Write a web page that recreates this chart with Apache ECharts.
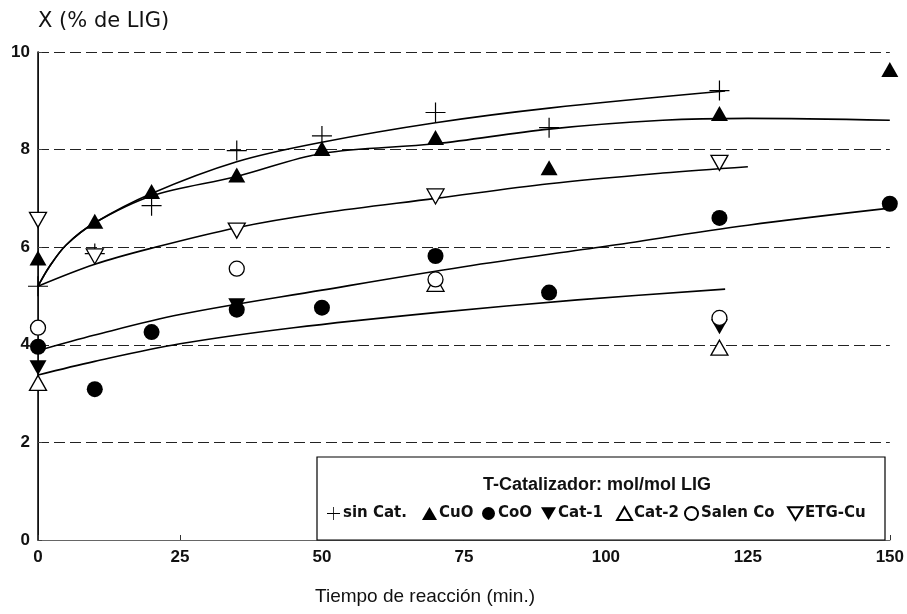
<!DOCTYPE html>
<html><head><meta charset="utf-8">
<script src="https://cdn.jsdelivr.net/npm/echarts@6/dist/echarts.min.js"></script>
<style>html,body{margin:0;padding:0;background:#fff}#c{width:907px;height:614px}</style>
</head><body><div id="c"></div>
<script>
// ---- data ----
const xMin = 0, xMax = 150, xStep = 25;
const yMin = 0, yMax = 10, yStep = 2;
const seriesNames = ['sin Cat.', 'CuO', 'CoO', 'Cat-1', 'Cat-2', 'Salen Co', 'ETG-Cu'];
const sinCat  = [[0,5.2],[10,5.87],[20,6.85],[35,7.98],[50,8.28],[70,8.76],[90,8.45],[120,9.21]];
const cuO     = [[0,5.78],[10,6.53],[20,7.14],[35,7.48],[50,8.02],[70,8.25],[90,7.63],[120,8.74],[150,9.64]];
const coO     = [[0,3.96],[10,3.09],[20,4.26],[35,4.72],[50,4.76],[70,5.82],[90,5.07],[120,6.6],[150,6.89]];
const cat1    = [[0,3.53],[35,4.8],[120,4.37]];
const cat2    = [[0,3.22],[70,5.25],[120,3.94]];
const salenCo = [[0,4.35],[35,5.56],[70,5.34],[120,4.55]];
const etgCu   = [[0,6.56],[10,5.81],[35,6.34],[70,7.04],[120,7.73]];
// fitted curves, points
const fitSinCat = [[0,5.2],[2,5.6],[5,6.05],[10,6.5],[20,7.1],[35,7.75],[50,8.15],[70,8.55],[90,8.85],[121,9.2]];
const fitCuO    = [[0,5.2],[2,5.6],[5,6.05],[10,6.5],[20,7.05],[35,7.45],[50,7.92],[70,8.12],[90,8.42],[110,8.6],[125,8.64],[150,8.6]];
const fitEtgCu  = [[0,5.2],[10,5.65],[20,5.98],[35,6.4],[50,6.7],[70,7.0],[90,7.3],[110,7.52],[125,7.65]];
const fitCoO    = [[0,3.88],[10,4.2],[25,4.62],[50,5.12],[75,5.6],[100,6.02],[125,6.45],[150,6.8]];
const fitLow    = [[0,3.38],[10,3.66],[25,4.02],[45,4.35],[70,4.66],[95,4.92],[121,5.14]];

// ---- layout ----
const legendLeft = [327, 422, 482, 541, 616, 684, 787];
const FONT = '"Liberation Sans", Arial, sans-serif';
const LFONT = '"DejaVu Sans", sans-serif';
const PLUS = 'path://M0,9.4H20V10.6H0Z M9.4,0H10.6V20H9.4Z';
const TRI_DOWN = 'path://M0,0L20,0L10,17Z';
const filled = {color:'#000', opacity:1};
const open = {color:'#fff', borderColor:'#000', borderWidth:1.3, opacity:1};

function sc(name, data, symbol, size, style){
  return {name, type:'scatter', data, symbol, symbolSize:size, itemStyle:style, z:4, silent:true};
}
function fit(data){
  return {type:'line', data, showSymbol:false, symbol:'none', smooth:0.35, silent:true, z:3,
          lineStyle:{color:'#000', width:1.6}};
}

const chart = echarts.init(document.getElementById('c'), null, {renderer:'canvas'});
chart.setOption({
  animation:false,
  backgroundColor:'#fff',
  textStyle:{fontFamily:FONT},
  grid:{left:38, right:17, top:52, bottom:74, containLabel:false},
  xAxis:[{
    type:'value', min:xMin, max:xMax, interval:xStep,
    axisLine:{show:true, lineStyle:{color:'#333', width:1}},
    axisTick:{show:true, inside:true, length:5, lineStyle:{color:'#333'}},
    axisLabel:{fontSize:17, fontWeight:'bold', color:'#111', margin:9, fontFamily:FONT},
    splitLine:{show:false}
  },{
    type:'value', min:xMin, max:xMax, position:'top',
    axisLine:{show:true, lineStyle:{color:'#666', width:1}},
    axisTick:{show:false}, axisLabel:{show:false}, splitLine:{show:false}
  }],
  yAxis:[{
    type:'value', min:yMin, max:yMax, interval:yStep,
    axisLine:{show:true, lineStyle:{color:'#444', width:1}},
    axisTick:{show:true, inside:true, length:4, lineStyle:{color:'#444'}},
    axisLabel:{fontSize:17, fontWeight:'bold', color:'#111', margin:8, fontFamily:FONT},
    splitLine:{show:true, lineStyle:{type:[11,5], color:'#222', width:1}}
  },{
    type:'value', min:yMin, max:yMax, position:'right',
    axisLine:{show:true, lineStyle:{color:'#000', width:1.5}},
    axisTick:{show:false}, axisLabel:{show:false}, splitLine:{show:false}
  }],
  legend: seriesNames.map((n, i) => ({
    data:[n], left:legendLeft[i], top:506, padding:0,
    itemWidth:15, itemHeight:13, itemGap:0, z:10, selectedMode:false,
    textStyle:{fontSize:15, fontWeight:'bold', color:'#111', fontFamily:LFONT, padding:[0,0,0,-3]}
  })),
  graphic:[
    {type:'rect', z:1, silent:true, shape:{x:317, y:457, width:568, height:83},
     style:{fill:'#fff', stroke:'#000', lineWidth:1.2}},
    {type:'text', z:10, silent:true, x:597, y:485,
     style:{text:'T-Catalizador: mol/mol LIG', fontSize:18, fontWeight:'bold', fontFamily:FONT, fill:'#111',
            textAlign:'center', textVerticalAlign:'middle'}},
    {type:'text', z:10, silent:true, x:38, y:22,
     style:{text:'X (% de LIG)', fontSize:21, fontFamily:LFONT, fill:'#111',
            textAlign:'left', textVerticalAlign:'middle'}},
    {type:'text', z:10, silent:true, x:425, y:597,
     style:{text:'Tiempo de reacción (min.)', fontSize:19, fontFamily:FONT, fill:'#111',
            textAlign:'center', textVerticalAlign:'middle'}}
  ],
  series:[
    fit(fitSinCat), fit(fitCuO), fit(fitEtgCu), fit(fitCoO), fit(fitLow),
    sc('sin Cat.', sinCat, PLUS, [20,20], filled),
    sc('CuO', cuO, 'triangle', [17,15], filled),
    sc('CoO', coO, 'circle', 16, filled),
    sc('Cat-1', cat1, TRI_DOWN, [17,15], filled),
    sc('Cat-2', cat2, 'triangle', [17,15], open),
    sc('Salen Co', salenCo, 'circle', 15, open),
    sc('ETG-Cu', etgCu, TRI_DOWN, [17,15], open)
  ]
});
</script></body></html>
